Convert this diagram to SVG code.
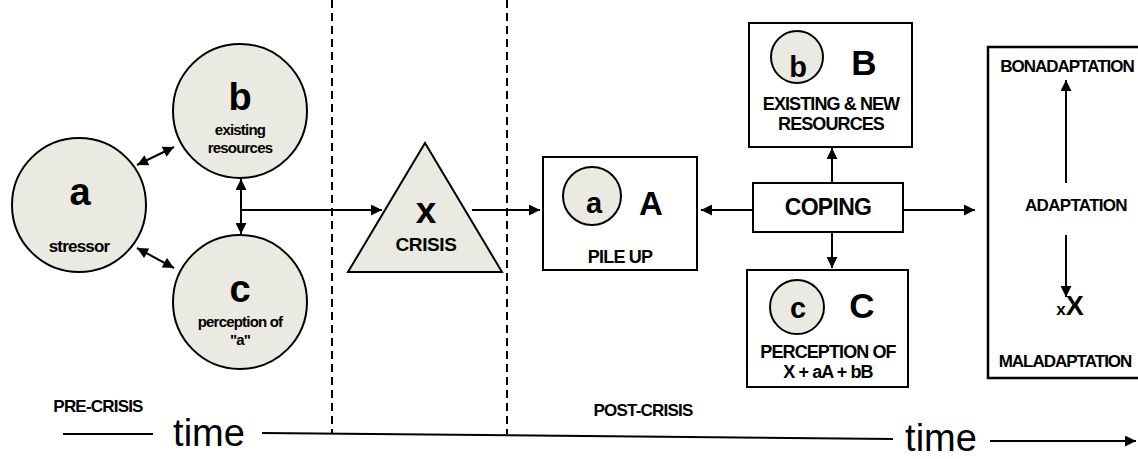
<svg xmlns="http://www.w3.org/2000/svg" width="1138" height="459" viewBox="0 0 1138 459">
<style>
.c{fill:#ebeae2;stroke:#000;stroke-width:2}
.bx{fill:#fff;stroke:#000;stroke-width:2}
.t{font-family:"Liberation Sans",Arial,sans-serif;font-weight:bold;fill:#000;text-anchor:middle}
.n{font-family:"Liberation Sans",Arial,sans-serif;fill:#000;text-anchor:middle}
.l{stroke:#000;stroke-width:2;fill:none}
.d{stroke:#000;stroke-width:2;stroke-dasharray:8 5;fill:none}
</style>
<defs>
<marker id="ah" viewBox="0 0 10 10" refX="10" refY="5" markerWidth="6" markerHeight="5.5" orient="auto-start-reverse" markerUnits="strokeWidth">
<path d="M0,0 L10,5 L0,10 z" fill="#000"/>
</marker>
</defs>
<g id="dividers">
<line class="d" x1="332" y1="0" x2="332" y2="434"/>
<line class="d" x1="507" y1="0" x2="507" y2="434"/>
</g>
<g id="node-a">
<circle class="c" cx="79" cy="205" r="67"/>
<text class="t" x="80" y="205" font-size="38">a</text>
<text class="t" x="79" y="252" font-size="17" letter-spacing="-0.8">stressor</text>
</g>
<g id="node-b">
<circle class="c" cx="240" cy="111" r="67"/>
<text class="t" x="240" y="110" font-size="38">b</text>
<text class="t" x="240" y="135" font-size="15" letter-spacing="-0.8">existing</text>
<text class="t" x="240" y="153" font-size="15" letter-spacing="-0.8">resources</text>
</g>
<g id="node-c">
<circle class="c" cx="240" cy="302" r="67"/>
<text class="t" x="240" y="302" font-size="38">c</text>
<text class="t" x="240" y="327" font-size="15" letter-spacing="-0.8">perception of</text>
<text class="t" x="240" y="345" font-size="15" letter-spacing="-0.8">"a"</text>
</g>
<g id="node-x">
<polygon class="c" points="425,143 502,272 348,272"/>
<text class="t" x="426" y="223" font-size="37">x</text>
<text class="t" x="426" y="251" font-size="19" letter-spacing="-0.4">CRISIS</text>
</g>
<g id="node-A">
<rect class="bx" x="543" y="157" width="154" height="113"/>
<circle class="c" cx="592" cy="196" r="29"/>
<text class="t" x="594" y="213" font-size="29">a</text>
<text class="t" x="651" y="215" font-size="33">A</text>
<text class="t" x="620" y="263" font-size="18" letter-spacing="-0.8">PILE UP</text>
</g>
<g id="node-B">
<rect class="bx" x="749" y="23" width="163" height="124"/>
<circle class="c" cx="797" cy="57" r="26"/>
<text class="t" x="798" y="77" font-size="29">b</text>
<text class="t" x="864" y="75" font-size="35">B</text>
<text class="t" x="831" y="110" font-size="18" letter-spacing="-0.9">EXISTING &amp; NEW</text>
<text class="t" x="831" y="130" font-size="18" letter-spacing="-0.9">RESOURCES</text>
</g>
<g id="node-coping">
<rect class="bx" x="753" y="183" width="150" height="49"/>
<text class="t" x="828" y="215" font-size="23" letter-spacing="-0.7">COPING</text>
</g>
<g id="node-C">
<rect class="bx" x="747" y="270" width="161" height="117"/>
<circle class="c" cx="797" cy="307" r="27"/>
<text class="t" x="798" y="318" font-size="29">c</text>
<text class="t" x="862" y="318" font-size="35">C</text>
<text class="t" x="828" y="358" font-size="18" letter-spacing="-0.9">PERCEPTION OF</text>
<text class="t" x="828" y="378" font-size="18" letter-spacing="-0.9">X + aA + bB</text>
</g>
<g id="node-adaptation">
<rect x="988" y="47" width="170" height="331" fill="#fff" stroke="#000" stroke-width="2.5"/>
<text class="t" x="1067" y="72" font-size="17" letter-spacing="-1">BONADAPTATION</text>
<text class="t" x="1076" y="211" font-size="17" letter-spacing="-0.7">ADAPTATION</text>
<text class="t" x="1070" y="315" font-size="27"><tspan font-size="17">x</tspan>X</text>
<text class="t" x="1065" y="367" font-size="17" letter-spacing="-1">MALADAPTATION</text>
</g>
<g id="connectors">
<line class="l" x1="137" y1="165" x2="174" y2="147" marker-start="url(#ah)" marker-end="url(#ah)"/>
<line class="l" x1="137" y1="248" x2="174" y2="268" marker-start="url(#ah)" marker-end="url(#ah)"/>
<line class="l" x1="241" y1="179" x2="241" y2="234" marker-start="url(#ah)" marker-end="url(#ah)"/>
<line class="l" x1="241" y1="210" x2="382" y2="210" marker-end="url(#ah)"/>
<line class="l" x1="472" y1="210" x2="540" y2="210" marker-end="url(#ah)"/>
<line class="l" x1="832" y1="183" x2="832" y2="148" marker-end="url(#ah)"/>
<line class="l" x1="832" y1="232" x2="832" y2="268" marker-end="url(#ah)"/>
<line class="l" x1="753" y1="210" x2="701" y2="210" marker-end="url(#ah)"/>
<line class="l" x1="903" y1="210" x2="975" y2="210" marker-end="url(#ah)"/>
<line class="l" x1="1066" y1="183" x2="1066" y2="80" marker-end="url(#ah)"/>
<line class="l" x1="1066" y1="235" x2="1066" y2="297" marker-end="url(#ah)"/>
</g>
<g id="timeline">
<text class="t" x="98" y="412" font-size="17" letter-spacing="-0.8">PRE-CRISIS</text>
<text class="t" x="643" y="416" font-size="17" letter-spacing="-0.8">POST-CRISIS</text>
<line x1="63" y1="434" x2="153" y2="434" stroke="#000" stroke-width="2"/>
<text class="n" x="209" y="446" font-size="38">time</text>
<line x1="262" y1="433" x2="893" y2="439" stroke="#000" stroke-width="2"/>
<text class="n" x="941" y="451" font-size="38">time</text>
<line x1="990" y1="441" x2="1136" y2="441" stroke="#000" stroke-width="2" marker-end="url(#ah)"/>
</g>
</svg>
